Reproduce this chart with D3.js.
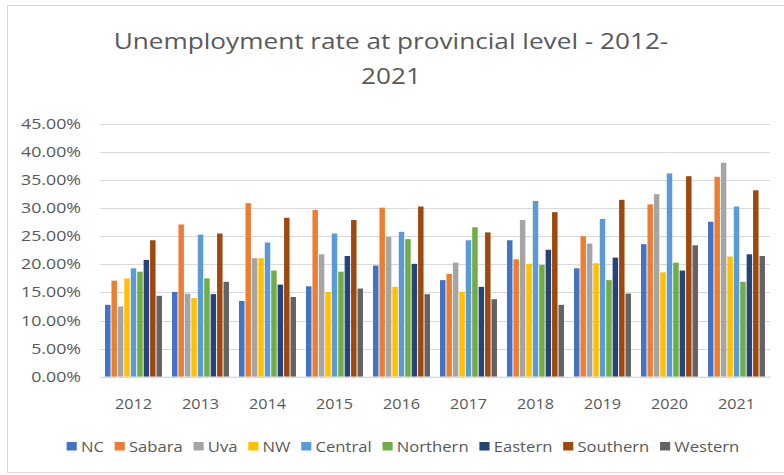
<!DOCTYPE html>
<html>
<head>
<meta charset="utf-8">
<script src="https://cdn.jsdelivr.net/npm/d3@7"></script>
<style>
  html, body { margin: 0; padding: 0; background: #fff; }
  svg { display: block; }
  text { font-family: "Open Sans", sans-serif; fill: #595959; }
</style>
</head>
<body>
<svg id="chart" width="784" height="475"></svg>
<script>
// Unemployment rate (%) by province, 2012-2021
const years = ["2012","2013","2014","2015","2016","2017","2018","2019","2020","2021"];
const provinces = ["NC","Sabara","Uva","NW","Central","Northern","Eastern","Southern","Western"];

const NC       = [12.8, 15.1, 13.5, 16.1, 19.8, 17.2, 24.3, 19.3, 23.6, 27.6];
const Sabara   = [17.1, 27.1, 30.9, 29.7, 30.1, 18.3, 20.9, 25.0, 30.7, 35.6];
const Uva      = [12.5, 14.8, 21.1, 21.8, 24.9, 20.3, 27.9, 23.7, 32.5, 38.1];
const NW       = [17.5, 14.0, 21.1, 15.1, 16.0, 15.1, 20.1, 20.2, 18.6, 21.4];
const Central  = [19.3, 25.3, 23.9, 25.5, 25.8, 24.3, 31.3, 28.1, 36.2, 30.3];
const Northern = [18.7, 17.5, 18.9, 18.7, 24.5, 26.6, 19.9, 17.2, 20.3, 16.9];
const Eastern  = [20.8, 14.7, 16.4, 21.5, 20.1, 16.0, 22.6, 21.2, 18.9, 21.8];
const Southern = [24.3, 25.5, 28.3, 27.9, 30.3, 25.7, 29.3, 31.5, 35.7, 33.2];
const Western  = [14.4, 16.9, 14.2, 15.7, 14.7, 13.8, 12.8, 14.8, 23.4, 21.5];

const yTicks = [0, 5, 10, 15, 20, 25, 30, 35, 40, 45];
const colors = ["#4472C4","#ED7D31","#A5A5A5","#FFC000","#5B9BD5","#70AD47","#264478","#9E480E","#636363"];

const seriesValues = [NC, Sabara, Uva, NW, Central, Northern, Eastern, Southern, Western];
const rows = years.map((yr, i) => ({
  year: yr,
  values: provinces.map((p, j) => ({ key: p, value: seriesValues[j][i] }))
}));

const svg = d3.select("#chart");

// chart frame
svg.append("rect")
  .attr("x", 7.5).attr("y", 5.5)
  .attr("width", 800).attr("height", 467)
  .attr("fill", "#fff").attr("stroke", "#d9d9d9").attr("stroke-width", 1);

const plot = { left: 100, right: 770, top: 124, bottom: 376.7 };

const y = d3.scaleLinear().domain([0, 45]).range([plot.bottom, plot.top]);
const x0 = d3.scaleBand().domain(years).range([plot.left, plot.right]).padding(0);
const x1 = d3.scaleBand().domain(provinces).range([0, x0.bandwidth()])
  .paddingInner(0.15).paddingOuter(0.78);
const color = d3.scaleOrdinal().domain(provinces).range(colors);

// horizontal gridlines
svg.append("g")
  .selectAll("line")
  .data(yTicks)
  .join("line")
  .attr("x1", plot.left).attr("x2", plot.right)
  .attr("y1", d => Math.round(y(d)) + 0.5).attr("y2", d => Math.round(y(d)) + 0.5)
  .attr("stroke", "#d9d9d9").attr("stroke-width", 1);

// y axis labels (text slightly widened horizontally)
const yAxis = d3.axisLeft(y).tickValues(yTicks).tickSize(0).tickPadding(0)
  .tickFormat(d => d3.format(".2f")(d) + "%");
svg.append("g")
  .attr("transform", `translate(${plot.left - 19},0) scale(1.27,1)`)
  .call(yAxis)
  .call(g => g.select(".domain").remove())
  .call(g => g.selectAll("text").attr("font-size", 14).attr("fill", "#595959")
    .style("font-family", "'Open Sans', sans-serif"));

// bars
svg.append("g")
  .selectAll("g")
  .data(rows)
  .join("g")
  .attr("transform", d => `translate(${x0(d.year)},0)`)
  .selectAll("rect")
  .data(d => d.values)
  .join("rect")
  .attr("x", d => x1(d.key))
  .attr("width", x1.bandwidth())
  .attr("y", d => y(d.value))
  .attr("height", d => y(0) - y(d.value))
  .attr("fill", d => color(d.key));

// x axis
const xAxis = d3.axisBottom(x0).tickSize(0).tickPadding(0);
svg.append("g")
  .attr("transform", `translate(0,${plot.bottom})`)
  .call(xAxis)
  .call(g => g.select(".domain").attr("stroke", "#d9d9d9"))
  .call(g => g.selectAll(".tick text").attr("font-size", 15).attr("fill", "#595959")
    .attr("dy", 0).attr("y", 32)
    .attr("transform", "scale(1.08,1)")
    .style("font-family", "'Open Sans', sans-serif"));

// title
const title = svg.append("text")
  .attr("text-anchor", "middle")
  .attr("font-size", 22)
  .attr("transform", "translate(391,0) scale(1.19,1)");
title.append("tspan").attr("x", 0).attr("y", 49).text("Unemployment rate at provincial level - 2012-");
title.append("tspan").attr("x", 0).attr("y", 84).text("2021");

// legend
const legendInner = svg.append("g");
let lx = 0;
provinces.forEach(p => {
  const item = legendInner.append("g").attr("transform", `translate(${lx},0)`);
  item.append("rect").attr("x", 0).attr("y", -5).attr("width", 8.5).attr("height", 8.5).attr("fill", color(p));
  const t = item.append("text").attr("x", 12).attr("y", 5).attr("font-size", 14).text(p);
  lx += 12 + t.node().getComputedTextLength() + 9;
});
const legendWidth = (lx - 9) * 1.19;
legendInner.attr("transform", `translate(${403 - legendWidth / 2},447) scale(1.19,1)`);
</script>
</body>
</html>
